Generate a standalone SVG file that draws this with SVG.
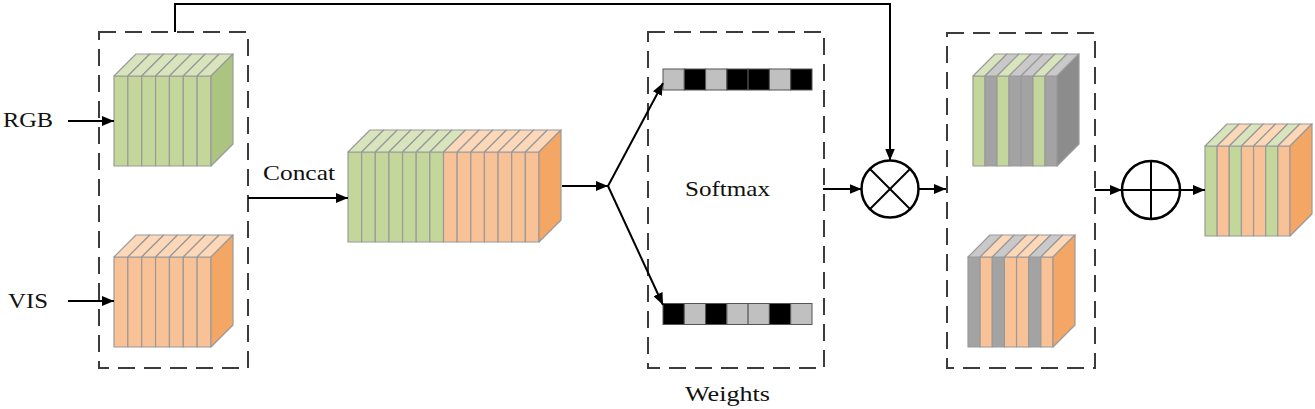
<svg xmlns="http://www.w3.org/2000/svg" width="1315" height="409" viewBox="0 0 1315 409">
<style>
.bg{fill:#ffffff}
.gf{fill:#C4D79B}.gt{fill:#D8E4BC}.gs{fill:#ABC47F}
.of{fill:#F9C196}.ot{fill:#FCD7B8}.os{fill:#F4A664}
.yf{fill:#A3A3A3}.yt{fill:#C9C9C9}.ys{fill:#8C8C8C}
.cube rect,.cube polygon{stroke:#9A9A9A;stroke-width:1.2;stroke-linejoin:round}
.dash{fill:none;stroke:#3C3C3C;stroke-width:2;stroke-dasharray:17 9}
.line{fill:none;stroke:#000;stroke-width:2}
.op{fill:#fff;stroke:#000;stroke-width:2.5}
.opl{stroke:#000;stroke-width:2}
.lbl{font-family:"Liberation Serif","Times New Roman",serif;font-size:21px;fill:#111}
.bk{fill:#000;stroke:#555;stroke-width:1}
.gy{fill:#C0C0C0;stroke:#555;stroke-width:1}
</style>
<defs>
<marker id="ah" viewBox="0 0 12 10" refX="12" refY="5" markerWidth="12" markerHeight="10" markerUnits="userSpaceOnUse" orient="auto">
<path d="M0,0 L12,5 L0,10 Z" fill="#000"/>
</marker>
</defs>
<rect class="bg" x="0" y="0" width="1315" height="409"/>

<g id="input-box">
<rect class="dash" x="99" y="32" width="149" height="336"/>
</g>
<g id="weights-box">
<rect class="dash" x="648" y="32" width="176" height="336"/>
<text class="lbl" x="685" y="401" textLength="85" lengthAdjust="spacingAndGlyphs">Weights</text>
<text class="lbl" x="685" y="196" textLength="85" lengthAdjust="spacingAndGlyphs">Softmax</text>
</g>
<g id="weighted-box">
<rect class="dash" x="947" y="33" width="148" height="335"/>
</g>

<g id="label-rgb"><text class="lbl" x="3" y="127" textLength="50" lengthAdjust="spacingAndGlyphs">RGB</text></g>
<g id="label-vis"><text class="lbl" x="8" y="308" textLength="40" lengthAdjust="spacingAndGlyphs">VIS</text></g>
<g id="label-concat"><text class="lbl" x="263" y="180" textLength="72" lengthAdjust="spacingAndGlyphs">Concat</text></g>

<g id="rgb-cube" class="cube" transform="translate(114,76)">
<rect class="gf" x="0" y="0" width="13.86" height="90"/>
<rect class="gf" x="13.86" y="0" width="13.85" height="90"/>
<rect class="gf" x="27.71" y="0" width="13.86" height="90"/>
<rect class="gf" x="41.57" y="0" width="13.86" height="90"/>
<rect class="gf" x="55.43" y="0" width="13.86" height="90"/>
<rect class="gf" x="69.29" y="0" width="13.85" height="90"/>
<rect class="gf" x="83.14" y="0" width="13.86" height="90"/>
<polygon class="gt" points="0,0 13.86,0 35.86,-22 22,-22"/>
<polygon class="gt" points="13.86,0 27.71,0 49.71,-22 35.86,-22"/>
<polygon class="gt" points="27.71,0 41.57,0 63.57,-22 49.71,-22"/>
<polygon class="gt" points="41.57,0 55.43,0 77.43,-22 63.57,-22"/>
<polygon class="gt" points="55.43,0 69.29,0 91.29,-22 77.43,-22"/>
<polygon class="gt" points="69.29,0 83.14,0 105.14,-22 91.29,-22"/>
<polygon class="gt" points="83.14,0 97,0 119,-22 105.14,-22"/>
<polygon class="gs" points="97,0 119,-22 119,68 97,90"/>
</g>

<g id="vis-cube" class="cube" transform="translate(114,257)">
<rect class="of" x="0" y="0" width="13.86" height="90"/>
<rect class="of" x="13.86" y="0" width="13.85" height="90"/>
<rect class="of" x="27.71" y="0" width="13.86" height="90"/>
<rect class="of" x="41.57" y="0" width="13.86" height="90"/>
<rect class="of" x="55.43" y="0" width="13.86" height="90"/>
<rect class="of" x="69.29" y="0" width="13.85" height="90"/>
<rect class="of" x="83.14" y="0" width="13.86" height="90"/>
<polygon class="ot" points="0,0 13.86,0 35.86,-22 22,-22"/>
<polygon class="ot" points="13.86,0 27.71,0 49.71,-22 35.86,-22"/>
<polygon class="ot" points="27.71,0 41.57,0 63.57,-22 49.71,-22"/>
<polygon class="ot" points="41.57,0 55.43,0 77.43,-22 63.57,-22"/>
<polygon class="ot" points="55.43,0 69.29,0 91.29,-22 77.43,-22"/>
<polygon class="ot" points="69.29,0 83.14,0 105.14,-22 91.29,-22"/>
<polygon class="ot" points="83.14,0 97,0 119,-22 105.14,-22"/>
<polygon class="os" points="97,0 119,-22 119,68 97,90"/>
</g>

<g id="concat-cube" class="cube" transform="translate(348,152)">
<rect class="gf" x="0" y="0" width="13.64" height="90"/>
<rect class="gf" x="13.64" y="0" width="13.65" height="90"/>
<rect class="gf" x="27.29" y="0" width="13.64" height="90"/>
<rect class="gf" x="40.93" y="0" width="13.64" height="90"/>
<rect class="gf" x="54.57" y="0" width="13.64" height="90"/>
<rect class="gf" x="68.21" y="0" width="13.65" height="90"/>
<rect class="gf" x="81.86" y="0" width="13.64" height="90"/>
<rect class="of" x="95.5" y="0" width="13.64" height="90"/>
<rect class="of" x="109.14" y="0" width="13.65" height="90"/>
<rect class="of" x="122.79" y="0" width="13.64" height="90"/>
<rect class="of" x="136.43" y="0" width="13.64" height="90"/>
<rect class="of" x="150.07" y="0" width="13.64" height="90"/>
<rect class="of" x="163.71" y="0" width="13.65" height="90"/>
<rect class="of" x="177.36" y="0" width="13.64" height="90"/>
<polygon class="gt" points="0,0 13.64,0 35.64,-22 22,-22"/>
<polygon class="gt" points="13.64,0 27.29,0 49.29,-22 35.64,-22"/>
<polygon class="gt" points="27.29,0 40.93,0 62.93,-22 49.29,-22"/>
<polygon class="gt" points="40.93,0 54.57,0 76.57,-22 62.93,-22"/>
<polygon class="gt" points="54.57,0 68.21,0 90.21,-22 76.57,-22"/>
<polygon class="gt" points="68.21,0 81.86,0 103.86,-22 90.21,-22"/>
<polygon class="gt" points="81.86,0 95.5,0 117.5,-22 103.86,-22"/>
<polygon class="ot" points="95.5,0 109.14,0 131.14,-22 117.5,-22"/>
<polygon class="ot" points="109.14,0 122.79,0 144.79,-22 131.14,-22"/>
<polygon class="ot" points="122.79,0 136.43,0 158.43,-22 144.79,-22"/>
<polygon class="ot" points="136.43,0 150.07,0 172.07,-22 158.43,-22"/>
<polygon class="ot" points="150.07,0 163.71,0 185.71,-22 172.07,-22"/>
<polygon class="ot" points="163.71,0 177.36,0 199.36,-22 185.71,-22"/>
<polygon class="ot" points="177.36,0 191,0 213,-22 199.36,-22"/>
<polygon class="os" points="191,0 213,-22 213,68 191,90"/>
</g>

<g id="weight-bar-top">
<rect class="gy" x="663" y="69" width="21.3" height="21"/>
<rect class="bk" x="684.3" y="69" width="21.3" height="21"/>
<rect class="gy" x="705.6" y="69" width="21.3" height="21"/>
<rect class="bk" x="726.9" y="69" width="21.2" height="21"/>
<rect class="bk" x="748.1" y="69" width="21.3" height="21"/>
<rect class="gy" x="769.4" y="69" width="21.3" height="21"/>
<rect class="bk" x="790.7" y="69" width="21.3" height="21"/>
</g>
<g id="weight-bar-bottom">
<rect class="bk" x="663" y="303.5" width="21.3" height="21"/>
<rect class="gy" x="684.3" y="303.5" width="21.3" height="21"/>
<rect class="bk" x="705.6" y="303.5" width="21.3" height="21"/>
<rect class="gy" x="726.9" y="303.5" width="21.2" height="21"/>
<rect class="gy" x="748.1" y="303.5" width="21.3" height="21"/>
<rect class="bk" x="769.4" y="303.5" width="21.3" height="21"/>
<rect class="gy" x="790.7" y="303.5" width="21.3" height="21"/>
</g>

<g id="multiply">
<circle class="op" cx="890" cy="189" r="28.5"/>
<line class="opl" x1="870" y1="169" x2="910" y2="209"/>
<line class="opl" x1="910" y1="169" x2="870" y2="209"/>
</g>

<g id="weighted-rgb-cube" class="cube" transform="translate(973,76)">
<rect class="gf" x="0" y="0" width="12" height="90"/>
<rect class="yf" x="12" y="0" width="12" height="90"/>
<rect class="gf" x="24" y="0" width="12" height="90"/>
<rect class="yf" x="36" y="0" width="12" height="90"/>
<rect class="yf" x="48" y="0" width="12" height="90"/>
<rect class="gf" x="60" y="0" width="12" height="90"/>
<rect class="yf" x="72" y="0" width="12" height="90"/>
<polygon class="gt" points="0,0 12,0 34,-22 22,-22"/>
<polygon class="yt" points="12,0 24,0 46,-22 34,-22"/>
<polygon class="gt" points="24,0 36,0 58,-22 46,-22"/>
<polygon class="yt" points="36,0 48,0 70,-22 58,-22"/>
<polygon class="yt" points="48,0 60,0 82,-22 70,-22"/>
<polygon class="gt" points="60,0 72,0 94,-22 82,-22"/>
<polygon class="yt" points="72,0 84,0 106,-22 94,-22"/>
<polygon class="ys" points="84,0 106,-22 106,68 84,90"/>
</g>

<g id="weighted-vis-cube" class="cube" transform="translate(968,257)">
<rect class="yf" x="0" y="0" width="12.14" height="90"/>
<rect class="of" x="12.14" y="0" width="12.15" height="90"/>
<rect class="yf" x="24.29" y="0" width="12.14" height="90"/>
<rect class="of" x="36.43" y="0" width="12.14" height="90"/>
<rect class="of" x="48.57" y="0" width="12.14" height="90"/>
<rect class="yf" x="60.71" y="0" width="12.15" height="90"/>
<rect class="of" x="72.86" y="0" width="12.14" height="90"/>
<polygon class="yt" points="0,0 12.14,0 34.14,-22 22,-22"/>
<polygon class="ot" points="12.14,0 24.29,0 46.29,-22 34.14,-22"/>
<polygon class="yt" points="24.29,0 36.43,0 58.43,-22 46.29,-22"/>
<polygon class="ot" points="36.43,0 48.57,0 70.57,-22 58.43,-22"/>
<polygon class="ot" points="48.57,0 60.71,0 82.71,-22 70.57,-22"/>
<polygon class="yt" points="60.71,0 72.86,0 94.86,-22 82.71,-22"/>
<polygon class="ot" points="72.86,0 85,0 107,-22 94.86,-22"/>
<polygon class="os" points="85,0 107,-22 107,68 85,90"/>
</g>

<g id="add">
<circle class="op" cx="1151" cy="190" r="29"/>
<line class="opl" x1="1122" y1="190" x2="1180" y2="190"/>
<line class="opl" x1="1151" y1="161" x2="1151" y2="219"/>
</g>

<g id="output-cube" class="cube" transform="translate(1205,146)">
<rect class="gf" x="0" y="0" width="12.14" height="90"/>
<rect class="of" x="12.14" y="0" width="12.15" height="90"/>
<rect class="gf" x="24.29" y="0" width="12.14" height="90"/>
<rect class="of" x="36.43" y="0" width="12.14" height="90"/>
<rect class="of" x="48.57" y="0" width="12.14" height="90"/>
<rect class="gf" x="60.71" y="0" width="12.15" height="90"/>
<rect class="of" x="72.86" y="0" width="12.14" height="90"/>
<polygon class="gt" points="0,0 12.14,0 34.14,-22 22,-22"/>
<polygon class="ot" points="12.14,0 24.29,0 46.29,-22 34.14,-22"/>
<polygon class="gt" points="24.29,0 36.43,0 58.43,-22 46.29,-22"/>
<polygon class="ot" points="36.43,0 48.57,0 70.57,-22 58.43,-22"/>
<polygon class="ot" points="48.57,0 60.71,0 82.71,-22 70.57,-22"/>
<polygon class="gt" points="60.71,0 72.86,0 94.86,-22 82.71,-22"/>
<polygon class="ot" points="72.86,0 85,0 107,-22 94.86,-22"/>
<polygon class="os" points="85,0 107,-22 107,68 85,90"/>
</g>

<g id="connectors">
<line class="line" x1="68" y1="121" x2="114" y2="121" marker-end="url(#ah)"/>
<line class="line" x1="68" y1="301" x2="114" y2="301" marker-end="url(#ah)"/>
<line class="line" x1="248" y1="198" x2="348" y2="198" marker-end="url(#ah)"/>
<line class="line" x1="562" y1="186" x2="608" y2="186" marker-end="url(#ah)"/>
<line class="line" x1="608" y1="186" x2="663" y2="83" marker-end="url(#ah)"/>
<line class="line" x1="608" y1="186" x2="663" y2="305" marker-end="url(#ah)"/>
<line class="line" x1="823" y1="189" x2="861.5" y2="189" marker-end="url(#ah)"/>
<polyline class="line" points="175,32 175,4 890,4 890,160.5" marker-end="url(#ah)"/>
<line class="line" x1="918.5" y1="189" x2="946" y2="189" marker-end="url(#ah)"/>
<line class="line" x1="1095" y1="190" x2="1122" y2="190" marker-end="url(#ah)"/>
<line class="line" x1="1180" y1="190" x2="1205" y2="190" marker-end="url(#ah)"/>
</g>
</svg>
